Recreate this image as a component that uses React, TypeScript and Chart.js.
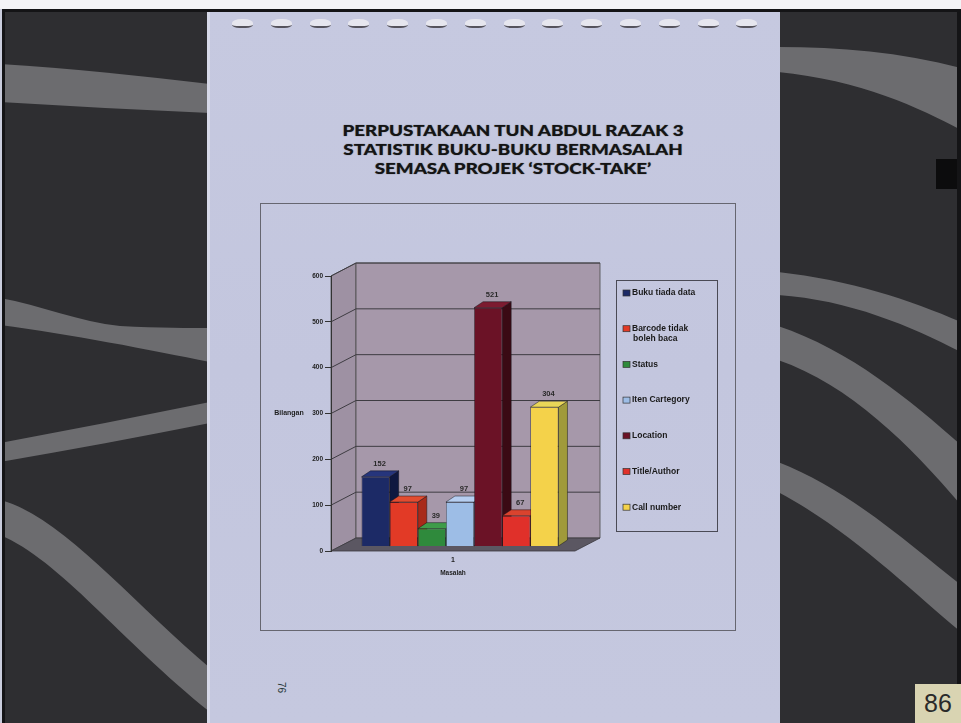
import React, { useEffect, useRef } from "react";
import { Chart, registerables } from "chart.js";

Chart.register(...registerables);

// ---- chart data ----
const categories = ["1"];
const seriesNames = [
  "Buku tiada data",
  "Barcode tidak boleh baca",
  "Status",
  "Iten Cartegory",
  "Location",
  "Title/Author",
  "Call number",
];
const seriesValues = [152, 97, 39, 97, 521, 67, 304];
const yMin = 0;
const yMax = 600;
const yStep = 100;
const yTitle = "Bilangan";
const xTitle = "Masalah";

// face colours: front, top, right side
const frontColors = ["#1c2a66", "#e23a26", "#2f8a3c", "#9dbde6", "#6b1226", "#e0302a", "#f4d24a"];
const topColors = ["#26357c", "#e24c30", "#3e9c4a", "#b6cef0", "#7c1b30", "#da432e", "#e9d658"];
const sideColors = ["#0f1840", "#a82a1a", "#1e5a26", "#6f8cb4", "#3a0a14", "#a02018", "#a09a3a"];

const titleLines = [
  "PERPUSTAKAAN TUN ABDUL RAZAK 3",
  "STATISTIK BUKU-BUKU BERMASALAH",
  "SEMASA PROJEK \u2018STOCK-TAKE\u2019",
];

// ---- 3D geometry ----
const DX = 25; // wall depth, x
const DY = -13; // wall depth, y
const BX = 7; // bar front plane offset
const BY = -4.5;
const BDX = 9; // bar depth
const BDY = -6;
const FONT = '"Liberation Sans", Arial, sans-serif';

type Pt = [number, number];
function poly(ctx: CanvasRenderingContext2D, pts: Pt[], fill: string, stroke?: string, lw = 0.8) {
  ctx.beginPath();
  ctx.moveTo(pts[0][0], pts[0][1]);
  for (let i = 1; i < pts.length; i++) ctx.lineTo(pts[i][0], pts[i][1]);
  ctx.closePath();
  ctx.fillStyle = fill;
  ctx.fill();
  if (stroke) {
    ctx.strokeStyle = stroke;
    ctx.lineWidth = lw;
    ctx.stroke();
  }
}

function wrapText(ctx: CanvasRenderingContext2D, text: string, maxW: number): string[] {
  const words = text.split(" ");
  const lines: string[] = [];
  let cur = "";
  for (const w of words) {
    const test = cur ? cur + " " + w : w;
    if (ctx.measureText(test).width > maxW && cur) {
      lines.push(cur);
      cur = w;
    } else cur = test;
  }
  if (cur) lines.push(cur);
  return lines;
}

const box3d = {
  id: "box3d",
  beforeDraw(chart: any) {
    const { ctx, chartArea: a, scales } = chart;
    const y = scales.y;
    ctx.save();
    // left side wall
    poly(ctx, [[a.left, a.top], [a.left + DX, a.top + DY], [a.left + DX, a.bottom + DY], [a.left, a.bottom]], "#9e91a3", "#4a4a4a");
    // back wall
    poly(ctx, [[a.left + DX, a.top + DY], [a.right + DX, a.top + DY], [a.right + DX, a.bottom + DY], [a.left + DX, a.bottom + DY]], "#a698aa", "#4a4a4a");
    // gridlines across side and back walls
    ctx.strokeStyle = "#3e3c42";
    ctx.lineWidth = 1;
    for (let v = yMin + yStep; v <= yMax; v += yStep) {
      const py = y.getPixelForValue(v);
      ctx.beginPath();
      ctx.moveTo(a.left, py);
      ctx.lineTo(a.left + DX, py + DY);
      ctx.lineTo(a.right + DX, py + DY);
      ctx.stroke();
    }
    // floor
    poly(ctx, [[a.left, a.bottom], [a.right, a.bottom], [a.right + DX, a.bottom + DY], [a.left + DX, a.bottom + DY]], "#5b5762", "#3a383e");
    ctx.restore();
  },
  beforeDatasetsDraw(chart: any) {
    const { ctx } = chart;
    ctx.save();
    ctx.translate(BX, BY);
    chart.data.datasets.forEach((_ds: any, i: number) => {
      const meta = chart.getDatasetMeta(i);
      meta.data.forEach((bar: any) => {
        const { x, y, width, base } = bar.getProps(["x", "y", "width", "base"], true);
        const l = x - width / 2;
        const r = x + width / 2;
        poly(ctx, [[r, y], [r + BDX, y + BDY], [r + BDX, base + BDY], [r, base]], sideColors[i], "rgba(20,20,25,0.8)", 0.6);
        poly(ctx, [[l, y], [r, y], [r + BDX, y + BDY], [l + BDX, y + BDY]], topColors[i], "rgba(20,20,25,0.8)", 0.6);
      });
    });
    // the translation stays active while the front faces are drawn
  },
  afterDatasetsDraw(chart: any) {
    const { ctx } = chart;
    ctx.restore();
    ctx.save();
    ctx.font = `bold 7.5px ${FONT}`;
    ctx.fillStyle = "#2a2a2a";
    ctx.textAlign = "center";
    ctx.textBaseline = "middle";
    chart.data.datasets.forEach((ds: any, i: number) => {
      const meta = chart.getDatasetMeta(i);
      meta.data.forEach((bar: any, j: number) => {
        const { x, y } = bar.getProps(["x", "y"], true);
        ctx.fillText(String(ds.data[j]), x + BX + 4, y + BY - 13);
      });
    });
    ctx.restore();
  },
  afterDraw(chart: any) {
    const { ctx, scales } = chart;
    ctx.save();
    // horizontal value-axis title
    ctx.font = `bold 7px ${FONT}`;
    ctx.fillStyle = "#1e1e1e";
    ctx.textAlign = "center";
    ctx.textBaseline = "middle";
    ctx.fillText(yTitle, 28, scales.y.getPixelForValue(300));

    // legend
    const lx = 355, ly = 76, lw = 101, lh = 251;
    ctx.strokeStyle = "#4a4a55";
    ctx.lineWidth = 1;
    ctx.strokeRect(lx + 0.5, ly + 0.5, lw, lh);
    ctx.font = `bold 8.5px ${FONT}`;
    ctx.textAlign = "left";
    chart.data.datasets.forEach((ds: any, i: number) => {
      const cy = 89 + i * 35.7;
      ctx.fillStyle = frontColors[i];
      ctx.fillRect(362, cy - 3, 7, 6);
      ctx.strokeStyle = "#333";
      ctx.lineWidth = 0.7;
      ctx.strokeRect(362, cy - 3, 7, 6);
      ctx.fillStyle = "#1a1a1a";
      const lines = wrapText(ctx, ds.label, 76);
      lines.forEach((ln, k) => ctx.fillText(ln, 371 + (k > 0 ? 1 : 0), cy + k * 10));
    });
    ctx.restore();
  },
};

function BarChart3D() {
  const ref = useRef<HTMLCanvasElement>(null);
  useEffect(() => {
    const chart = new Chart(ref.current as HTMLCanvasElement, {
      type: "bar",
      data: {
        labels: categories,
        datasets: seriesNames.map((name, i) => ({
          label: name,
          data: [seriesValues[i]],
          backgroundColor: frontColors[i],
          borderColor: "rgba(20,20,25,0.8)",
          borderWidth: 0.7,
          barPercentage: 1,
          categoryPercentage: 0.807,
          clip: false as any,
        })),
      },
      options: {
        responsive: false,
        animation: false,
        layout: { padding: { left: 30, right: 160, top: 72, bottom: 49 } },
        plugins: { legend: { display: false }, tooltip: { enabled: false }, title: { display: false } },
        scales: {
          x: {
            grid: { display: false, drawTicks: false },
            border: { display: false },
            ticks: { color: "#1e1e1e", font: { family: FONT, size: 7, weight: "bold" }, padding: 5 },
            title: { display: true, text: xTitle, color: "#1e1e1e", font: { family: FONT, size: 6.5, weight: "bold" }, padding: { top: 2, bottom: 4 } },
            afterFit: (s: any) => { s.height = 30; },
          },
          y: {
            min: yMin,
            max: yMax,
            ticks: { stepSize: yStep, color: "#1e1e1e", font: { family: FONT, size: 6.5, weight: "bold" }, padding: 2 },
            grid: { drawOnChartArea: false, drawTicks: true, tickLength: 6, color: "#333" },
            border: { display: true, color: "#333" },
            afterFit: (s: any) => { s.width = 40; },
          },
        },
      } as any,
      plugins: [box3d],
    });
    return () => chart.destroy();
  }, []);
  return <canvas ref={ref} width={474} height={426} style={{ position: "absolute", left: 0, top: 0, width: 474, height: 426 }} />;
}

function Backdrop() {
  const band = "#6c6c6f";
  return (
    <svg width={961} height={723} style={{ position: "absolute", left: 0, top: 0 }}>
      <rect x={0} y={9} width={961} height={714} fill="#2e2e31" />
      {/* left panel bands */}
      <path d="M0,64 C70,68 140,76 210,84 L210,113 C140,110 70,106 0,102 Z" fill={band} />
      <path d="M0,298 C40,305 80,322 120,326 C160,328 190,328 210,328 L210,362 C150,350 70,334 0,325 Z" fill={band} />
      <path d="M0,443 C70,430 140,416 210,402 L210,423 C140,437 70,450 0,462 Z" fill={band} />
      <path d="M0,500 C60,515 130,600 210,668 L210,712 C120,640 60,560 0,535 Z" fill={band} />
      {/* right panel bands */}
      <path d="M778,47 C840,47 900,52 961,68 L961,130 C920,108 860,80 778,72 Z" fill={band} />
      <path d="M778,272 C850,280 910,300 961,322 L961,352 C910,326 850,300 778,295 Z" fill={band} />
      <path d="M778,326 C850,350 910,400 961,445 L961,505 C910,445 850,385 778,360 Z" fill={band} />
      <path d="M778,462 C850,490 910,545 961,585 L961,632 C910,590 850,530 778,492 Z" fill={band} />
      {/* frame */}
      <rect x={0} y={0} width={961} height={9} fill="#f3f3f6" />
      <rect x={0} y={9} width={961} height={3} fill="#141416" />
      <rect x={0} y={9} width={2} height={714} fill="#c9ccdc" />
      <rect x={2} y={9} width={3} height={714} fill="#141416" />
      <rect x={957} y={9} width={4} height={714} fill="#141416" />
      <rect x={936} y={159} width={21} height={30} fill="#0c0c0d" />
    </svg>
  );
}

export default function App() {
  const holes = Array.from({ length: 14 }, (_, i) => 232 + i * 38.8);
  return (
    <div style={{ position: "fixed", left: 0, top: 0, width: 961, height: 723, overflow: "hidden", background: "#2e2e31" }}>
      <Backdrop />
      {/* paper sheet */}
      <div style={{ position: "absolute", left: 207, top: 12, width: 570, height: 711, background: "linear-gradient(180deg, #c6c9e0 0%, #c3c6de 50%, #c5c8df 100%)", borderLeft: "3px solid #d6d8e8" }} />
      {holes.map((x, i) => (
        <div key={i} style={{ position: "absolute", left: x, top: 19, width: 21, height: 7, background: "#e6e6ee", borderRadius: "45% 45% 35% 35%", borderBottom: "2px solid #55535c" }} />
      ))}
      {/* title */}
      <div style={{ position: "absolute", left: 300, top: 121, width: 426, textAlign: "center", fontFamily: "Lato, sans-serif", fontWeight: 900, fontSize: 15, lineHeight: "19px", color: "#141414", transform: "scaleX(1.25)", transformOrigin: "213px 0", textShadow: "0 0 1px rgba(20,20,20,0.6)" }}>
        {titleLines.map((t, i) => (
          <div key={i}>{t}</div>
        ))}
      </div>
      {/* chart frame */}
      <div style={{ position: "absolute", left: 260, top: 203, width: 474, height: 426, border: "1px solid #666670" }}>
        <BarChart3D />
      </div>
      {/* page number on sheet */}
      <div style={{ position: "absolute", left: 276, top: 682, fontFamily: FONT, fontSize: 10, color: "#2a3a3a", transform: "rotate(90deg)" }}>76</div>
      {/* slide number */}
      <div style={{ position: "absolute", left: 915, top: 684, width: 46, height: 39, background: "#d9d4b2", fontFamily: FONT, fontSize: 25, lineHeight: "39px", textAlign: "center", color: "#2a2a2a" }}>86</div>
    </div>
  );
}
